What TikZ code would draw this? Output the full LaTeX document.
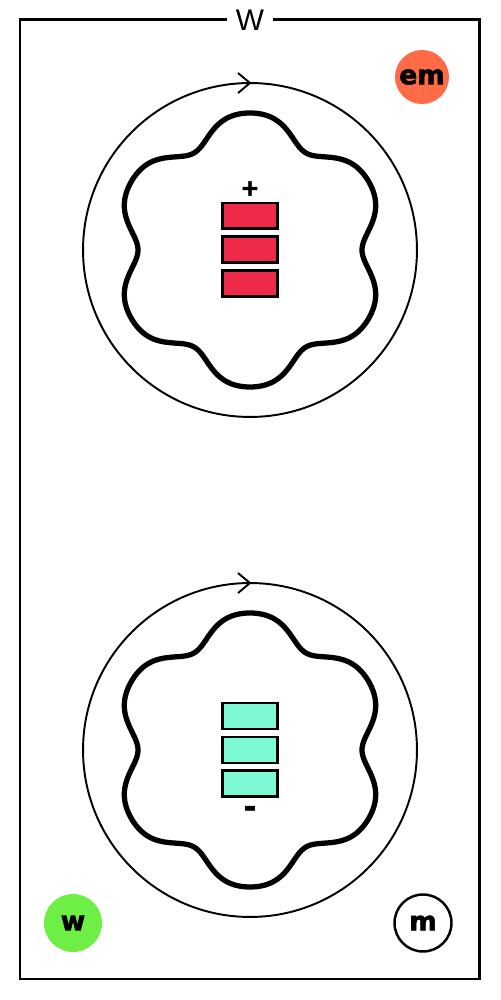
\documentclass[tikz,border=0pt]{standalone}
\usepackage{fontspec}
\setmainfont{DejaVu Sans}
\newfontfamily\titlefont{Liberation Sans}
\newfontfamily\badgefont{DejaVu Sans}[BoldFeatures={FakeBold=2.5}]
\usetikzlibrary{positioning}
\definecolor{cellred}{HTML}{EE2A4A}
\definecolor{cellteal}{HTML}{7DF9D3}
\definecolor{emorange}{HTML}{FF6A47}
\definecolor{wgreen}{HTML}{6EEF46}

\begin{document}
\begin{tikzpicture}[x=0.02cm, y=0.02cm,
    ring/.style={
% The shape:
circle,
% The size:
      minimum size=6.68cm, inner sep=0pt, outer sep=0pt,
% The border:
      line width=1.1pt, draw=black
    },
    wave/.style={line width=3pt, draw=black, line join=round},
    cell/.style={
% The shape:
rectangle,
% The size:
      minimum width=1.1cm, minimum height=0.52cm, inner sep=0pt, outer sep=0pt,
% The border:
      line width=1.7pt, draw=black
    },
    sign/.style={inner sep=0pt},
    badge/.style={
% The shape:
circle, inner sep=0pt,
      % Font
font=\badgefont\fontsize{15}{15}\selectfont\bfseries
    },
    node distance=0.16cm
  ]
  \useasboundingbox (0,0) rectangle (500,1000);
  \draw[line width=1.7pt] (20,21) rectangle (479,980);
  \node[fill=white, inner xsep=0.17cm, inner ysep=0pt,
        font=\titlefont\fontsize{17}{17}\selectfont] (title) at (250,980) {W};

  \node[ring] (ringA) at (250,750) {};
  \node[ring] (ringB) at (250,250) {};
  \foreach \r in {ringA, ringB} {
    \draw[line width=1.1pt, line join=miter]
      ([shift={(-12,10)}]\r.north) -- (\r.north) -- ++(-12,-10);
    % six lobes, lobe on top
    \draw[wave, shift={(\r.center)}]
      plot[smooth cycle, domain=0:359, samples=360, variable=\t]
      (\t:{126.5+12.5*cos(6*(\t-90))-2*cos(12*(\t-90))});
  }

  % charged battery
  \node[cell, fill=cellred] (redMid) at (ringA.center) {};
  \node[cell, fill=cellred, above=of redMid] (redTop) {};
  \node[cell, fill=cellred, below=of redMid] (redLow) {};
  \node[sign, font=\badgefont\fontsize{13}{13}\selectfont\bfseries] (plus)
    at ([yshift=0.29cm]redTop.north) {+};

  % empty battery
  \node[cell, fill=cellteal] (tealMid) at (ringB.center) {};
  \node[cell, fill=cellteal, above=of tealMid] (tealTop) {};
  \node[cell, fill=cellteal, below=of tealMid] (tealLow) {};
  \node[sign, font=\badgefont\fontsize{17}{17}\selectfont\bfseries] (minus)
    at ([yshift=-0.29cm]tealLow.south) {-};

  \node[badge, fill=emorange, minimum size=1.08cm] (em) at (422,923) {em};
  \node[badge, fill=wgreen, minimum size=1.16cm] (w) at (73,77) {w};
  \node[badge, draw=black, line width=1.4pt, fill=white,
        minimum size=1.14cm] (m) at (423,77) {m};
\end{tikzpicture}
\end{document}
